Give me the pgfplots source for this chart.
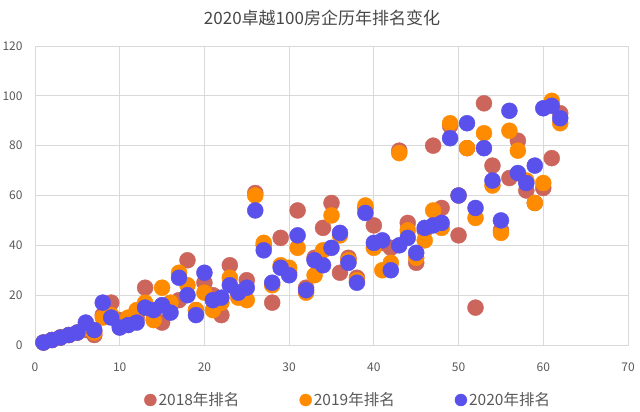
\documentclass[border=0pt]{standalone}
\usepackage{fontspec}
\setmainfont{Noto Sans CJK SC}
\usepackage{pgfplots}
\pgfplotsset{compat=1.18}
\definecolor{cred}{RGB}{204,102,92}
\definecolor{corange}{RGB}{255,140,0}
\definecolor{cblue}{RGB}{90,80,235}
\definecolor{gridc}{RGB}{217,217,217}
\definecolor{txt}{RGB}{89,89,89}
\begin{document}
\begin{tikzpicture}
\path[use as bounding box] (0,0) rectangle (640bp,412bp);
\node[text=txt!80!black, font=\fontsize{17bp}{19bp}\selectfont] at (322bp,394bp) {2020卓越100房企历年排名变化};
\begin{axis}[
  at={(35bp,67bp)}, anchor=south west,
  scale only axis, width=593bp, height=299bp,
  xmin=0, xmax=70, ymin=0, ymax=120,
  xtick={0,10,...,70}, ytick={0,20,...,120},
  grid=major, major grid style={gridc, line width=0.8pt},
  axis line style={gridc, line width=0.8pt},
  tick style={draw=none},
  clip=false,
  /pgf/number format/assume math mode=true,
  ticklabel style={text=txt, font=\fontsize{12bp}{14bp}\selectfont},
  xticklabel style={yshift=-14bp},
  yticklabel style={xshift=-9bp},
  legend columns=3,
  legend style={at={(0.528,-0.184)}, anchor=center, draw=none, fill=none,
    font=\fontsize{15.5bp}{17bp}\selectfont, text=txt,
    /tikz/every even column/.append style={column sep=58bp}},
  legend image code/.code={\fill[#1] (0.3em,0) circle (6bp);},
]
\addplot[only marks, mark=*, mark size=8bp, mark options={draw=cred, fill=cred}, cred] coordinates {
(1,1)(2,2)(3,3)(4,4)(5,5)(6,6)(7,4)(8,12)(9,17)(10,10)(11,9)(12,11)(13,23)(14,13)(15,9)(16,16)(17,18)(18,34)(19,14)(20,25)
(21,20)(22,12)(23,32)(24,21)(25,26)(26,61)(27,40)(28,17)(29,43)(30,29)(31,54)(32,23)(33,35)(34,47)(35,57)(36,29)(37,35)(38,27)(39,55)(40,48)
(41,41)(42,39)(43,78)(44,49)(45,33)(46,46)(47,80)(48,55)(49,88)(50,44)(51,79)(52,15)(53,97)(54,72)(55,46)(56,67)(57,82)(58,62)(59,57)(60,63)
(61,75)(62,93)};
\addlegendentry{2018年排名}
\addplot[only marks, mark=*, mark size=8bp, mark options={draw=corange, fill=corange}, corange] coordinates {
(1,1)(2,2)(3,3)(4,4)(5,5)(6,7)(7,5)(8,11)(9,12)(10,8)(11,11)(12,14)(13,17)(14,10)(15,23)(16,17)(17,29)(18,24)(19,14)(20,21)
(21,14)(22,17)(23,27)(24,19)(25,18)(26,60)(27,41)(28,24)(29,32)(30,31)(31,39)(32,21)(33,28)(34,38)(35,52)(36,44)(37,34)(38,26)(39,56)(40,39)
(41,30)(42,33)(43,77)(44,46)(45,35)(46,42)(47,54)(48,47)(49,89)(50,60)(51,79)(52,51)(53,85)(54,64)(55,45)(56,86)(57,78)(58,66)(59,57)(60,65)
(61,98)(62,89)};
\addlegendentry{2019年排名}
\addplot[only marks, mark=*, mark size=8bp, mark options={draw=cblue, fill=cblue}, cblue] coordinates {
(1,1)(2,2)(3,3)(4,4)(5,5)(6,9)(7,6)(8,17)(9,11)(10,7)(11,8)(12,9)(13,15)(14,14)(15,16)(16,13)(17,27)(18,20)(19,12)(20,29)
(21,18)(22,19)(23,24)(24,21)(25,23)(26,54)(27,38)(28,25)(29,31)(30,28)(31,44)(32,22)(33,34)(34,32)(35,39)(36,45)(37,33)(38,25)(39,53)(40,41)
(41,42)(42,30)(43,40)(44,43)(45,37)(46,47)(47,48)(48,49)(49,83)(50,60)(51,89)(52,55)(53,79)(54,66)(55,50)(56,94)(57,69)(58,65)(59,72)(60,95)
(61,96)(62,91)};
\addlegendentry{2020年排名}
\end{axis}
\end{tikzpicture}
\end{document}
